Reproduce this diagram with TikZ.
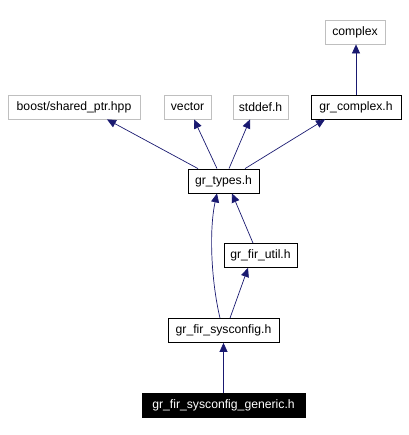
\documentclass[tikz,border=0pt]{standalone}
\usepackage{fontspec}
\setmainfont{Liberation Sans}
\usetikzlibrary{arrows.meta}
\definecolor{edgeblue}{HTML}{191970}
\definecolor{extgray}{HTML}{BFBFBF}
\begin{document}
\begin{tikzpicture}[x=1pt, y=-1pt,
  file/.style={draw, line width=0.8pt, minimum height=24pt, inner sep=0pt, font=\fontsize{12.2}{14}\selectfont},
  extfile/.style={file, draw=extgray},
  mainfile/.style={file, fill=black, text=white},
  incl/.style={draw=edgeblue, line width=0.7pt, -{Triangle[length=9pt, width=8pt]}}]
  \useasboundingbox (0, 0) rectangle (408, 435);
  \node[extfile, minimum width=60pt] (complex) at (355, 32) {complex};
  \node[extfile, minimum width=132pt] (boost) at (74, 107) {boost/shared\_ptr.hpp};
  \node[extfile, minimum width=47pt] (vector) at (187.5, 107) {vector};
  \node[extfile, minimum width=55pt] (stddef) at (260.5, 107) {stddef.h};
  \node[file, minimum width=90pt] (grcomplex) at (356, 107) {gr\_complex.h};
  \node[file, minimum width=71pt] (types) at (223.5, 181) {gr\_types.h};
  \node[file, minimum width=73pt] (firutil) at (260.5, 255.5) {gr\_fir\_util.h};
  \node[file, minimum width=111pt] (sysconfig) at (223.5, 330.5) {gr\_fir\_sysconfig.h};
  \node[mainfile, minimum width=163pt] (generic) at (223.5, 405.5) {gr\_fir\_sysconfig\_generic.h};
  % include edges
  \draw[incl] ([xshift=-25.5]types.north) -- ([xshift=33]boost.south);
  \draw[incl] ([xshift=-6.5]types.north) -- ([xshift=6.5]vector.south);
  \draw[incl] ([xshift=5.5]types.north) -- ([xshift=-10.5]stddef.south);
  \draw[incl] ([xshift=21.5]types.north) -- ([xshift=-31]grcomplex.south);
  \draw[incl] (grcomplex.north) -- (grcomplex.north |- complex.south);
  \draw[incl] ([xshift=-3.5]sysconfig.north) .. controls (211, 280) and (209, 230) .. ([xshift=-6.5]types.south);
  \draw[incl] ([xshift=6.5]sysconfig.north) -- ([xshift=-12.5]firutil.south);
  \draw[incl] ([xshift=-7.5]firutil.north) -- ([xshift=8.5]types.south);
  \draw[incl] (generic) -- (sysconfig);
\end{tikzpicture}
\end{document}
